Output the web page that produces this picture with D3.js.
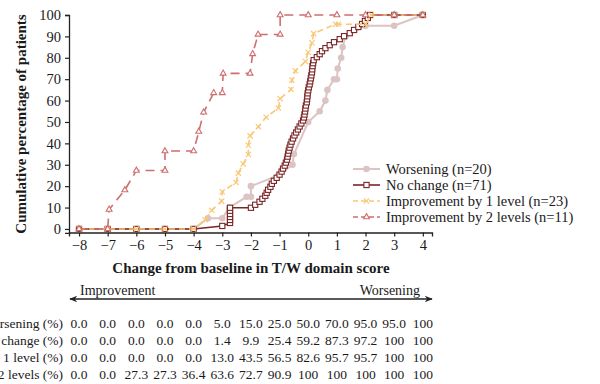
<!DOCTYPE html>
<html lang="en">
<head>
<meta charset="UTF-8">
<title>Cumulative distribution chart</title>
<style>
  body { margin: 0; background: #fff; }
  svg text { font-family: 'Liberation Serif', 'DejaVu Serif', serif; fill: #1a1a1a; }
</style>
<script src="https://d3js.org/d3.v7.min.js"></script>
</head>
<body>
<svg width="600" height="384"></svg>
<script>
// tick labels
const xTicks = [-8, -7, -6, -5, -4, -3, -2, -1, 0, 1, 2, 3, 4];
const yTicks = [0, 10, 20, 30, 40, 50, 60, 70, 80, 90, 100];

// series (change score, cumulative %)
const worseningX = [-8, -7, -6, -5, -4, -3.5, -3, -2.75, -2.15, -2, -2, -1.05, -0.55, -0.5, 0, 0.4, 0.6, 0.67, 0.9, 1, 1.03, 1.15, 1.2, 1.3, 2, 3, 4];
const worseningY = [0, 0, 0, 0, 0, 5, 5, 10, 15, 15, 20, 25, 30, 35, 50, 55, 60, 65, 70, 70, 75, 80, 85, 90, 95, 95, 100];

const noChangeX = [-8, -7, -6, -5, -4, -3, -2.73, -2.73, -2.73, -2.73, -2.73, -2.73, -2, -1.85, -1.7, -1.6, -1.5, -1.45, -1.4, -1.32, -1.27, -1.2, -1.1, -1.0,
  -0.93, -0.88, -0.82, -0.78, -0.74, -0.72, -0.7, -0.68, -0.65, -0.62, -0.58, -0.53, -0.48, -0.42, -0.36, -0.3, -0.24, -0.18, -0.15, -0.13, -0.11, -0.1,
  -0.08, -0.05, -0.04, -0.03, -0.02, 0.0, 0.02, 0.05, 0.07, 0.09, 0.11, 0.13, 0.14, 0.15, 0.17, 0.19, 0.3, 0.4, 0.48, 0.6, 0.75, 0.9, 1.1, 1.25, 1.45,
  1.6, 1.75, 1.88, 1.98, 2.08, 2.16, 3, 4];
const noChangeY = [0, 0, 0, 0, 0, 1.4, 2.8, 4.2, 5.6, 7.0, 8.5, 9.9, 9.9, 11.3, 12.7, 14.1, 15.5, 16.9, 18.3, 19.7, 21.1, 22.5, 23.9, 25.4,
  26.8, 28.2, 29.6, 31.0, 32.4, 33.8, 35.2, 36.6, 38.0, 39.4, 40.8, 42.3, 43.7, 45.1, 46.5, 47.9, 49.3, 50.7, 52.1, 53.5, 54.9, 56.3,
  57.7, 59.2, 60.6, 62.0, 63.4, 64.8, 66.2, 67.6, 69.0, 70.4, 71.8, 73.2, 74.6, 76.1, 77.5, 78.9, 80.3, 81.7, 83.1, 84.5, 85.9, 87.3, 88.7, 90.1, 91.5,
  93.0, 94.4, 95.8, 97.2, 98.6, 100, 100, 100];

const improve1X = [-8, -7, -6, -5, -4, -3.6, -3.37, -3.02, -3.0, -2.52, -2.44, -2.27, -2.09, -2.09, -2.03, -1.74, -1.47, -1.04, -0.98, -0.6, -0.57, -0.45, -0.1, 0, 0.13, 0.19, 0.95, 1.05, 2, 2.2, 3, 4];
const improve1Y = [0, 0, 0, 0, 0, 4.3, 8.7, 13.0, 17.4, 21.7, 26.1, 30.4, 34.8, 39.1, 43.5, 47.8, 52.2, 56.5, 60.9, 65.2, 69.6, 73.9, 78.3, 82.6, 87.0, 91.3, 95.7, 95.7, 95.7, 100, 100, 100];

const improve2X = [-8, -7, -6.95, -6.4, -6, -5, -5, -4, -3.82, -3.65, -3.3, -3, -2.97, -2.03, -1.94, -1.75, -0.98, -0.98, 0, 1, 2, 3, 4];
const improve2Y = [0, 0, 9.1, 18.2, 27.3, 27.3, 36.4, 36.4, 45.5, 54.5, 63.6, 63.6, 72.7, 72.7, 81.8, 90.9, 90.9, 100, 100, 100, 100, 100, 100];

const seriesNames = ["Worsening (n=20)", "No change (n=71)", "Improvement by 1 level (n=23)", "Improvement by 2 levels (n=11)"];

// table under the axis
const rowLabels = ["Worsening (%)", "No change (%)", "Improvement by 1 level (%)", "Improvement by 2 levels (%)"];
const worseningRow = ["0.0", "0.0", "0.0", "0.0", "0.0", "5.0", "15.0", "25.0", "50.0", "70.0", "95.0", "95.0", "100"];
const noChangeRow = ["0.0", "0.0", "0.0", "0.0", "0.0", "1.4", "9.9", "25.4", "59.2", "87.3", "97.2", "100", "100"];
const improve1Row = ["0.0", "0.0", "0.0", "0.0", "0.0", "13.0", "43.5", "56.5", "82.6", "95.7", "95.7", "100", "100"];
const improve2Row = ["0.0", "0.0", "27.3", "27.3", "36.4", "63.6", "72.7", "90.9", "100", "100", "100", "100", "100"];

const svg = d3.select("svg");

const x = d3.scaleLinear().domain([-8.35, 4.32]).range([69, 432]);
const y = d3.scaleLinear().domain([-1.8, 100]).range([232.8, 15]);

const styles = [
    { color: "#dcc4c4", width: 2, dash: null, marker: "circle" },
    { color: "#7a2626", width: 1.6, dash: null, marker: "square" },
    { color: "#f9c877", width: 1.6, dash: "6,4", marker: "cross" },
    { color: "#cf6e6e", width: 1.6, dash: "9,6", marker: "triangle" }
];

const series = [
    d3.zip(worseningX, worseningY),
    d3.zip(noChangeX, noChangeY),
    d3.zip(improve1X, improve1Y),
    d3.zip(improve2X, improve2Y)
];

// axes
const xAxis = svg.append("g")
    .attr("transform", "translate(0,232.5)")
    .call(d3.axisBottom(x).tickValues(xTicks).tickSizeOuter(0).tickSize(4).tickPadding(3)
        .tickFormat(d => d < 0 ? "\u2212" + Math.abs(d) : d));
const yAxis = svg.append("g")
    .attr("transform", "translate(69,0)")
    .call(d3.axisLeft(y).tickValues(yTicks).tickSizeOuter(0).tickSize(4).tickPadding(4));

[xAxis, yAxis].forEach(a => {
    a.select(".domain").attr("stroke", "#222").attr("stroke-width", 1.3);
    a.selectAll(".tick line").attr("stroke", "#222").attr("stroke-width", 1.2);
    a.selectAll(".tick text").style("font-family", "'Liberation Serif', serif").style("font-size", "14.5px").attr("fill", "#1a1a1a");
});

// marker drawer
function drawMarker(g, type, color) {
    if (type === "circle") {
        g.append("circle").attr("r", 3.3).attr("fill", color);
    } else if (type === "square") {
        g.append("rect").attr("x", -2.6).attr("y", -2.6).attr("width", 5.2).attr("height", 5.2)
            .attr("fill", "#fff").attr("stroke", color).attr("stroke-width", 1.1);
    } else if (type === "cross") {
        g.append("path").attr("d", "M-2.6,-2.6L2.6,2.6M-2.6,2.6L2.6,-2.6").attr("stroke", color).attr("stroke-width", 1.2).attr("fill", "none");
    } else {
        g.append("path").attr("d", d3.symbol(d3.symbolTriangle, 15)())
            .attr("fill", "#fff").attr("stroke", color).attr("stroke-width", 1.1);
    }
}

const line = d3.line().x(d => x(d[0])).y(d => y(d[1]));

series.forEach((pts, i) => {
    const s = styles[i];
    const g = svg.append("g");
    g.append("path")
        .attr("d", line(pts))
        .attr("fill", "none")
        .attr("stroke", s.color)
        .attr("stroke-width", s.width)
        .attr("stroke-dasharray", s.dash);
    g.selectAll("g.pt")
        .data(pts)
        .enter().append("g")
        .attr("class", "pt")
        .attr("transform", d => `translate(${x(d[0])},${y(d[1])})`)
        .each(function() { drawMarker(d3.select(this), s.marker, s.color); });
});

// legend
const legend = svg.append("g").attr("transform", "translate(353,169)");
seriesNames.forEach((name, i) => {
    const s = styles[i];
    const row = legend.append("g").attr("transform", `translate(0,${i * 16})`);
    row.append("line").attr("x1", 0).attr("x2", 27).attr("y1", 0).attr("y2", 0)
        .attr("stroke", s.color).attr("stroke-width", s.width)
        .attr("stroke-dasharray", s.dash ? "5,3" : null);
    drawMarker(row.append("g").attr("transform", "translate(13.5,0)"), s.marker, s.color);
    row.append("text").attr("x", 33).attr("dy", "0.35em")
        .style("font-size", "14.5px").text(name);
});

// axis titles
svg.append("text")
    .attr("transform", "translate(26,124) rotate(-90)")
    .attr("text-anchor", "middle")
    .style("font-size", "15px").style("font-weight", "700")
    .text("Cumulative percentage of patients");

svg.append("text")
    .attr("x", 251).attr("y", 273)
    .attr("text-anchor", "middle")
    .style("font-size", "15px").style("font-weight", "700")
    .text("Change from baseline in T/W domain score");

// direction arrow
const defs = svg.append("defs");
defs.append("marker").attr("id", "ah").attr("viewBox", "0 0 10 10").attr("refX", 9).attr("refY", 5)
    .attr("markerWidth", 10).attr("markerHeight", 8).attr("orient", "auto-start-reverse")
    .attr("markerUnits", "userSpaceOnUse")
    .append("path").attr("d", "M0,1L10,5L0,9L3,5Z").attr("fill", "#222");
svg.append("line")
    .attr("x1", 70).attr("x2", 432).attr("y1", 299).attr("y2", 299)
    .attr("stroke", "#222").attr("stroke-width", 1.3)
    .attr("marker-start", "url(#ah)").attr("marker-end", "url(#ah)");
svg.append("text").attr("x", 80).attr("y", 295).style("font-size", "14px").text("Improvement");
svg.append("text").attr("x", 420).attr("y", 295).attr("text-anchor", "end").style("font-size", "14px").text("Worsening");

// table
const tableRows = [worseningRow, noChangeRow, improve1Row, improve2Row];
tableRows.forEach((vals, r) => {
    const ty = 323 + r * 17;
    svg.append("text").attr("x", 63).attr("y", ty).attr("dy", "0.35em")
        .attr("text-anchor", "end").style("font-size", "13.5px").text(rowLabels[r]);
    svg.append("g").selectAll("text")
        .data(vals)
        .enter().append("text")
        .attr("x", (d, i) => x(xTicks[i]))
        .attr("y", ty).attr("dy", "0.35em")
        .attr("text-anchor", "middle")
        .style("font-size", "13.5px")
        .text(d => d);
});
</script>
</body>
</html>
